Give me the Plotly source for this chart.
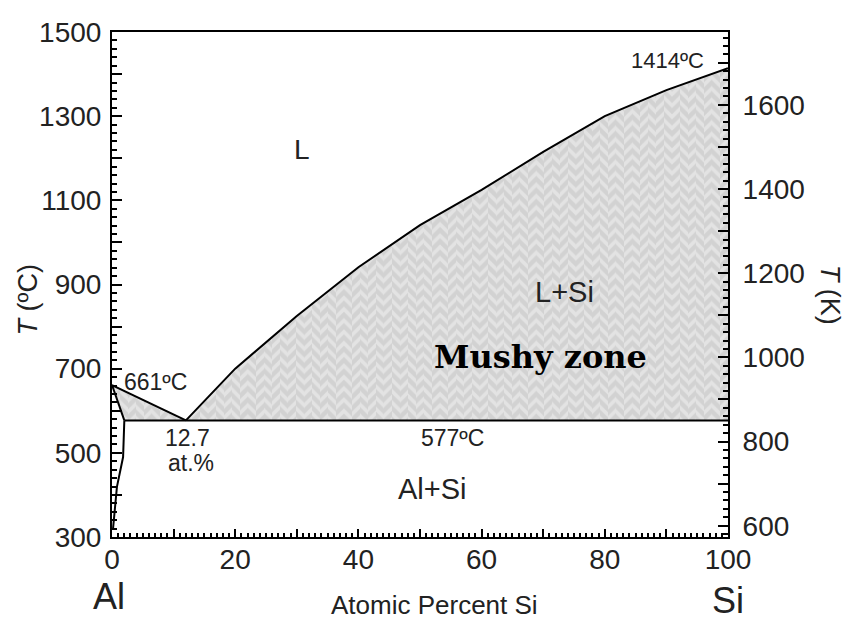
import numpy as np
import plotly.graph_objects as go

# ---- data ----
al_liq_x = [0, 12.0]
al_liq_T = [661, 577]
si_liq_x = [12.0, 20, 30, 40, 50, 60, 70, 80, 90, 100]
si_liq_T = [577, 700, 825, 941, 1041, 1125, 1215, 1300, 1362, 1414]
solidus_x = [0, 0.6, 1.2, 1.7, 2.0]
solidus_T = [661, 635, 608, 588, 577]
solvus_x = [2.0, 1.8, 0.8, 0.5, 0.15]
solvus_T = [577, 490, 419, 371, 317]
eutectic_T = 577
eutectic_x = [2.0, 100]

x_ticks = [0, 10, 20, 30, 40, 50, 60, 70, 80, 90, 100]
x_ticktext = ["0", "", "20", "", "40", "", "60", "", "80", "", "100"]
c_ticks = list(range(300, 1501, 100))
c_ticktext = [str(v) if (v - 300) % 200 == 0 else "" for v in c_ticks]
k_ticks = list(range(600, 1701, 100))
k_ticktext = [str(v) if v % 200 == 0 else "" for v in k_ticks]

labels = [
    ("L", 30.8, 1220, 28, "Liberation Sans", False),
    ("L+Si", 73.4, 882, 29, "Liberation Sans", False),
    ("Al+Si", 52.1, 414, 29, "Liberation Sans", False),
    ("577ºC", 55.2, 535, 23, "Liberation Sans", False),
    ("661ºC", 7.1, 668, 23, "Liberation Sans", False),
    ("12.7", 12.3, 535, 23, "Liberation Sans", False),
    ("at.%", 12.8, 476, 23, "Liberation Sans", False),
    ("1414ºC", 90.1, 1433, 22, "Liberation Sans", False),
    ("Mushy zone", 69.6, 727, 32, "DejaVu Serif", True),
]

TK = 273.15
txt = "#222222"
font = "Liberation Sans, Arial, sans-serif"
BG = "#d2d2d2"
FG = "#f3f3f3"

fig = go.Figure()

# shaded mushy zone: base polygon
poly_x = al_liq_x + si_liq_x[1:] + [100, eutectic_x[0]] + solidus_x[::-1][1:]
poly_T = al_liq_T + si_liq_T[1:] + [eutectic_T, eutectic_T] + solidus_T[::-1][1:]
fig.add_trace(go.Scatter(x=poly_x, y=poly_T, mode="none", fill="toself",
                         fillcolor=BG, hoverinfo="skip", showlegend=False))

# herringbone texture: alternating strips of "/" and "\" hatching clipped to the zone
liq_x = np.array(al_liq_x + si_liq_x[1:], dtype=float)
liq_T = np.array(al_liq_T + si_liq_T[1:], dtype=float)
sol_x = np.array(solidus_x, dtype=float)
sol_T = np.array(solidus_T, dtype=float)
PX_PER_UNIT = 616 / 100.0
TILE = 8
w = TILE / PX_PER_UNIT
edges = np.arange(0, 100 + w, w)
for i in range(len(edges) - 1):
    x0, x1 = edges[i], min(edges[i + 1], 100)
    if x1 <= x0:
        continue
    inner_u = liq_x[(liq_x > x0) & (liq_x < x1)]
    xs_u = np.concatenate([[x0], inner_u, [x1]])
    up = np.interp(xs_u, liq_x, liq_T)
    inner_l = sol_x[(sol_x > x0) & (sol_x < x1)]
    xs_l = np.concatenate([[x0], inner_l, [x1]])
    lo = np.where(xs_l < sol_x[-1], np.interp(xs_l, sol_x, sol_T), eutectic_T)
    px = list(xs_u) + list(xs_l[::-1])
    py = list(up) + list(lo[::-1])
    fig.add_trace(go.Scatter(
        x=px, y=py, mode="none", fill="toself", fillcolor=BG,
        fillpattern=dict(shape="/" if i % 2 == 0 else "\\", fgcolor=FG, bgcolor=BG,
                         size=TILE, solidity=0.45),
        hoverinfo="skip", showlegend=False))

line = dict(color="black", width=2)
for xs, ys in [(al_liq_x, al_liq_T), (si_liq_x, si_liq_T), (solidus_x, solidus_T),
               (solvus_x, solvus_T), (eutectic_x, [eutectic_T, eutectic_T])]:
    fig.add_trace(go.Scatter(x=xs, y=ys, mode="lines", line=line,
                             hoverinfo="skip", showlegend=False))

# invisible trace for Kelvin axis
fig.add_trace(go.Scatter(x=[0, 100], y=[300 + TK, 1500 + TK], yaxis="y2",
                         mode="none", hoverinfo="skip", showlegend=False))

for t, x, y, s, f, b in labels:
    fig.add_annotation(x=x, y=y, text=("<b>%s</b>" % t) if b else t, showarrow=False,
                       font=dict(family=f, size=s, color="black" if b else txt),
                       xanchor="center", yanchor="middle")

paper_ann = [
    ("<i>T</i> (ºC)", -0.136, 0.469, -90, 27),
    ("<i>T</i> (K)", 1.166, 0.479, 90, 27),
    ("Al", -0.005, -0.117, 0, 36),
    ("Si", 1.0, -0.125, 0, 36),
    ("Atomic Percent Si", 0.524, -0.134, 0, 26),
]
for t, x, y, a, s in paper_ann:
    fig.add_annotation(x=x, y=y, xref="paper", yref="paper", text=t, showarrow=False,
                       textangle=a, font=dict(family=font, size=s, color=txt),
                       xanchor="center", yanchor="middle")

fig.update_layout(
    width=852, height=621,
    margin=dict(l=112, r=124, t=32, b=84),
    paper_bgcolor="white", plot_bgcolor="white",
    font=dict(family=font, color=txt),
    xaxis=dict(range=[0, 100], tickmode="array", tickvals=x_ticks, ticktext=x_ticktext,
               ticks="inside", ticklen=8, tickwidth=2, tickcolor="black",
               minor=dict(dtick=1, ticklen=4, tickwidth=1.5, tickcolor="black", ticks="inside"),
               showline=True, linecolor="black", linewidth=2, mirror=True,
               showgrid=False, zeroline=False, tickfont=dict(size=28, color=txt),
               ticklabelstandoff=-4),
    yaxis=dict(range=[300, 1500], tickmode="array", tickvals=c_ticks, ticktext=c_ticktext,
               ticks="inside", ticklen=10, tickwidth=2, tickcolor="black",
               minor=dict(dtick=20, ticklen=5, tickwidth=1.5, tickcolor="black", ticks="inside"),
               showline=True, linecolor="black", linewidth=2,
               showgrid=False, zeroline=False, tickfont=dict(size=28, color=txt),
               ticklabelstandoff=3),
    yaxis2=dict(range=[300 + TK, 1500 + TK], overlaying="y", side="right",
                tickmode="array", tickvals=k_ticks, ticktext=k_ticktext,
                ticks="inside", ticklen=10, tickwidth=2, tickcolor="black",
                minor=dict(dtick=20, ticklen=5, tickwidth=1.5, tickcolor="black", ticks="inside"),
                showline=True, linecolor="black", linewidth=2,
                showgrid=False, zeroline=False, tickfont=dict(size=28, color=txt),
                ticklabelstandoff=7),
)

fig.write_html("out.html")
